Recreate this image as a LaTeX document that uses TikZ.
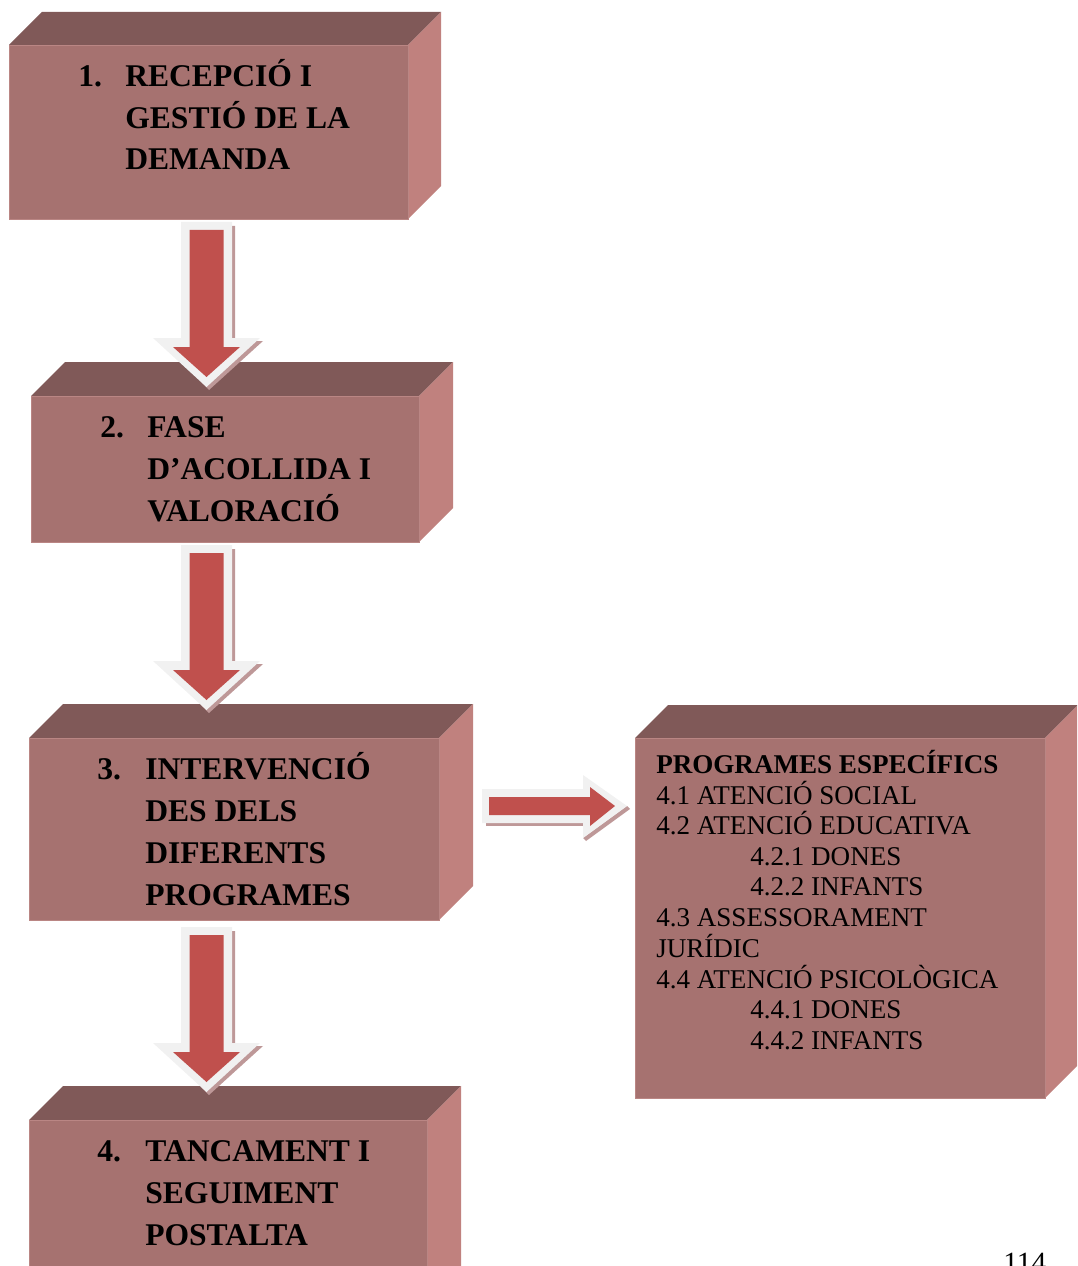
\documentclass[tikz,border=0pt]{standalone}
\usepackage{fontspec}
\setmainfont{Liberation Serif}
\usetikzlibrary{fit}
\definecolor{frontc}{RGB}{166,114,112}
\definecolor{frontedge}{RGB}{186,134,132}
\definecolor{topc}{RGB}{128,89,88}
\definecolor{sidec}{RGB}{192,129,126}
\definecolor{arrred}{RGB}{192,80,77}
\definecolor{arrout}{RGB}{241,241,241}
\definecolor{arrshadow}{RGB}{190,152,152}
% name, x1, y1, x2, y2, depth
\newcommand\mybox[6]{%
  \fill[topc] (#2,#3) -- (#2+#6,#3-#6) -- (#4+#6,#3-#6) -- (#4,#3) -- cycle;
  \fill[sidec] (#4,#3) -- (#4+#6,#3-#6) -- (#4+#6,#5-#6) -- (#4,#5) -- cycle;
  \fill[frontc] (#2,#3) rectangle (#4,#5);
  \draw[frontedge, line width=0.6pt] (#2,#3) rectangle (#4,#5);
  \node[fit={(#2,#3) (#4,#5)}, inner sep=0pt] (#1) {};
}
% down block arrow: x offset, y offset
\newcommand\mydownarrow[2]{%
  \begin{scope}[shift={(#1,#2)}]
    \fill[arrshadow] (235,226) -- (235,341) -- (263,341) -- (209,390) -- (201,382) -- (250,338) -- (232,338) -- (232,226) -- cycle;
    \fill[arrout] (181,222) -- (232,222) -- (232,338) -- (260,338) -- (206.5,387) -- (153,338) -- (181,338) -- cycle;
    \fill[arrred] (189.5,230) -- (223.5,230) -- (223.5,347) -- (240,347) -- (206.5,377) -- (173,347) -- (189.5,347) -- cycle;
  \end{scope}
}
\begin{document}
\begin{tikzpicture}[x=0.75pt,y=-0.75pt,
  title/.style={font=\fontsize{23.7}{28}\selectfont\bfseries, anchor=base west, inner sep=0pt},
  item/.style={font=\fontsize{20.3}{24}\selectfont, anchor=base west, inner sep=0pt},
  itemb/.style={item, font=\fontsize{20.3}{24}\selectfont\bfseries}]
\useasboundingbox (0,0) rectangle (1077,1266);
\clip (0,0) rectangle (1077,1266);

% boxes
\mybox{b1}{9}{45}{408}{219}{33}
\mybox{b2}{31}{396}{419}{542}{34}
\mybox{b3}{29}{738}{439}{920}{34}
\mybox{b4}{29}{1120}{427}{1300}{34}
\mybox{b5}{635}{738}{1045}{1098}{33}

% box 1 text
\node[title] (n1) at (78,87) {1.};
\node[title] (t1a) at (125,87) {RECEPCIÓ I};
\node[title] (t1b) at (125,129) {GESTIÓ DE LA};
\node[title] (t1c) at (125,170) {DEMANDA};

% box 2 text
\node[title] (n2) at (100,437) {2.};
\node[title] (t2a) at (147,437) {FASE};
\node[title] (t2b) at (147,479) {D’ACOLLIDA I};
\node[title] (t2c) at (147,521) {VALORACIÓ};

% box 3 text
\node[title] (n3) at (97,779) {3.};
\node[title] (t3a) at (145,779) {INTERVENCIÓ};
\node[title] (t3b) at (145,821) {DES DELS};
\node[title] (t3c) at (145,863) {DIFERENTS};
\node[title] (t3d) at (145,905) {PROGRAMES};

% box 4 text
\node[title] (n4) at (97,1161) {4.};
\node[title] (t4a) at (145,1161) {TANCAMENT I};
\node[title] (t4b) at (145,1203) {SEGUIMENT};
\node[title] (t4c) at (145,1245) {POSTALTA};

% box 5 text
\node[itemb] (p0) at (656,773) {PROGRAMES ESPECÍFICS};
\node[item] (p1) at (656,804) {4.1 ATENCIÓ SOCIAL};
\node[item] (p2) at (656,834) {4.2 ATENCIÓ EDUCATIVA};
\node[item] (p21) at (750,865) {4.2.1 DONES};
\node[item] (p22) at (750,895) {4.2.2 INFANTS};
\node[item] (p3) at (656,926) {4.3 ASSESSORAMENT};
\node[item] (p3b) at (656,957) {JURÍDIC};
\node[item] (p4) at (656,988) {4.4 ATENCIÓ PSICOLÒGICA};
\node[item] (p41) at (750,1018) {4.4.1 DONES};
\node[item] (p42) at (750,1049) {4.4.2 INFANTS};

% down arrows
\mydownarrow{0}{0}
\mydownarrow{0}{323}
\mydownarrow{0}{705}

% right arrow
\fill[arrshadow] (486,823) -- (583,823) -- (583,826) -- (486,826) -- cycle;
\fill[arrshadow] (586,841) -- (630,809) -- (627,806) -- (583,838) -- cycle;
\fill[arrout] (482,789) -- (583,789) -- (583,775) -- (627,806) -- (583,838) -- (583,823) -- (482,823) -- cycle;
\fill[arrred] (489,797) -- (590,797) -- (590,787) -- (615,806) -- (590,826) -- (590,815) -- (489,815) -- cycle;

% page number
\node[font=\fontsize{22}{26}\selectfont, anchor=base west, inner sep=0pt] (pg) at (1003,1272) {114};
\end{tikzpicture}
\end{document}
